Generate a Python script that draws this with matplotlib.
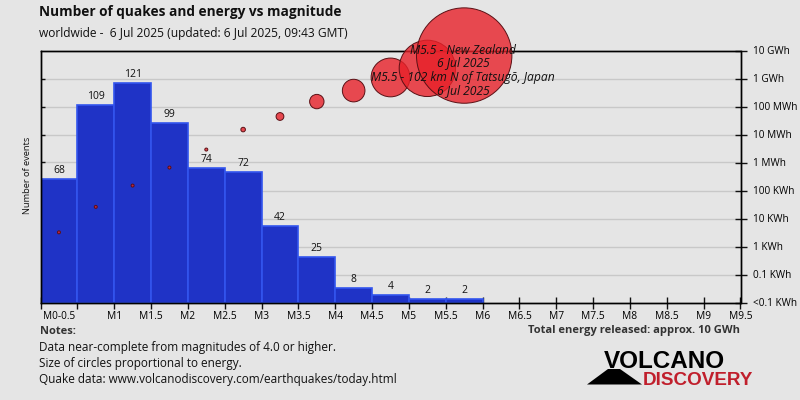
import math
import matplotlib
matplotlib.use('Agg')
import matplotlib.pyplot as plt
from matplotlib.patches import Polygon
from matplotlib.ticker import NullLocator

plt.rcParams['font.family'] = ['Open Sans', 'DejaVu Sans']

# magnitude bins
bin_left = [0, 0.5, 1, 1.5, 2, 2.5, 3, 3.5, 4, 4.5, 5, 5.5]
counts = [68, 109, 121, 99, 74, 72, 42, 25, 8, 4, 2, 2]

# energy per bin in kWh
energy_mag = [0.25, 0.75, 1.25, 1.75, 2.25, 2.75, 3.25, 3.75, 4.25, 4.75, 5.25, 5.75]
energy_kwh = [3.2, 26, 150, 660, 2900, 1.5e4, 4.4e4, 1.5e5, 3.7e5, 1.09e6, 2.3e6, 6.6e6]

x_ticks = [0, 0.5, 1, 1.5, 2, 2.5, 3, 3.5, 4, 4.5, 5, 5.5, 6, 6.5, 7, 7.5, 8, 8.5, 9, 9.5]
x_labels = ['', '', 'M1', 'M1.5', 'M2', 'M2.5', 'M3', 'M3.5', 'M4', 'M4.5', 'M5', 'M5.5',
            'M6', 'M6.5', 'M7', 'M7.5', 'M8', 'M8.5', 'M9', 'M9.5']
energy_ticks = [1e7, 1e6, 1e5, 1e4, 1e3, 1e2, 1e1, 1, 0.1, 0.01]
energy_labels = ['10 GWh', '1 GWh', '100 MWh', '10 MWh', '1 MWh', '100 KWh', '10 KWh',
                 '1 KWh', '0.1 KWh', '<0.1 KWh']
notes = ['Data near-complete from magnitudes of 4.0 or higher.',
         'Size of circles proportional to energy.',
         'Quake data: www.volcanodiscovery.com/earthquakes/today.html']

BG = '#e5e5e5'
W, H = 800, 400
YMAX = 139


def px(x, y):
    """pixel position to figure fraction"""
    return x / W, 1 - y / H


def put(x, y, s, **kw):
    fx, fy = px(x, y)
    kw.setdefault('color', '#111111')
    kw.setdefault('va', 'center')
    return fig.text(fx, fy, s, **kw)


fig = plt.figure(figsize=(8, 4), dpi=100, facecolor=BG)
left, top = px(40.5, 50.5)
right, bottom = px(740.5, 302.5)
ax = fig.add_axes([left, bottom, right - left, top - bottom], facecolor=BG)
ax.set_xlim(0, 9.5)
ax.set_ylim(0, YMAX)
ax.set_zorder(1)

ax2 = ax.twinx()
ax2.set_yscale('log')
ax2.set_ylim(0.01, 1e7)
ax2.set_zorder(2)
ax2.patch.set_visible(False)

# grid belongs to the energy scale
for t in energy_ticks[1:-1]:
    ax.axhline((math.log10(t) + 2) / 9 * YMAX, color='#c8c8c8', lw=1, zorder=1)

ax.bar(bin_left, counts, width=0.5, align='edge', color='#1f33c6', edgecolor='#3355ee',
       linewidth=1.2, zorder=2)
for b, c in zip(bin_left, counts):
    ax.text(b + 0.25, c + 1.6, str(c), ha='center', va='bottom', fontsize=7.5, color='#111111')

radius = [max(1.5, 47.7 * (e / 6.6e6) ** 0.5) for e in energy_kwh]
sizes = [(2 * r * 0.72) ** 2 for r in radius]
ax2.scatter(energy_mag, energy_kwh, s=sizes, facecolors=(0.91, 0.13, 0.16, 0.8),
            edgecolors='#5a1015', linewidths=0.7, clip_on=False, zorder=5)

ax.set_xticks(x_ticks)
ax.set_xticklabels(x_labels, fontsize=7.4)
ax.set_xticks([0.25], minor=True)
ax.set_xticklabels(['M0-0.5'], minor=True, fontsize=7.2)
ax.tick_params(axis='x', which='major', direction='inout', length=8, width=1, pad=2, color='#111111')
ax.tick_params(axis='x', which='minor', length=0, pad=6)
ax.set_yticks([(i + 1) * YMAX / 9 for i in range(8)])
ax.set_yticklabels([])
ax.tick_params(axis='y', direction='in', length=3, width=1, color='#111111')

ax2.set_yticks(energy_ticks)
ax2.set_yticklabels(energy_labels, fontsize=7.2)
ax2.yaxis.set_minor_locator(NullLocator())
ax2.tick_params(axis='y', direction='inout', length=8, width=1, pad=5, color='#111111')

for a in (ax, ax2):
    for s in a.spines.values():
        s.set_linewidth(1)
        s.set_color('#000000')

put(39, 12, 'Number of quakes and energy vs magnitude', fontsize=9.8, fontweight='bold')
put(39, 34, 'worldwide -  6 Jul 2025 (updated: 6 Jul 2025, 09:43 GMT)', fontsize=8.65)
put(28, 175, 'Number of events', fontsize=6.7, rotation=90, ha='center')

put(463, 51, 'M5.5 - New Zealand', fontsize=8.75, style='italic', ha='center', zorder=10)
put(463, 63, '6 Jul 2025', fontsize=8.75, style='italic', ha='center', zorder=10)
put(463, 77, 'M5.5 - 102 km N of Tatsugō, Japan', fontsize=8.75, style='italic', ha='center', zorder=10)
put(463, 91, '6 Jul 2025', fontsize=8.75, style='italic', ha='center', zorder=10)

put(40, 332, 'Notes:', fontsize=8, fontweight='bold', color='#333333')
for y, line in zip([347, 363, 379], notes):
    put(39, y, line, fontsize=8.5)

put(740, 331, 'Total energy released: approx. 10 GWh', fontsize=8, fontweight='bold',
    ha='right', color='#333333')

# logo
fig.add_artist(Polygon([px(587, 384.5), px(608, 369), px(620, 369), px(642, 384.5)],
                       closed=True, transform=fig.transFigure, color='black', lw=0))
put(604, 368, 'VOLCANO', fontsize=17.5, fontweight='bold', family='Liberation Sans',
    color='black', va='baseline')
put(643, 385, 'DISCOVERY', fontsize=13.6, fontweight='bold', family='Liberation Sans',
    color='#c01f2c', va='baseline')

fig.savefig('out.png', dpi=100, facecolor=BG)
plt.close(fig)
